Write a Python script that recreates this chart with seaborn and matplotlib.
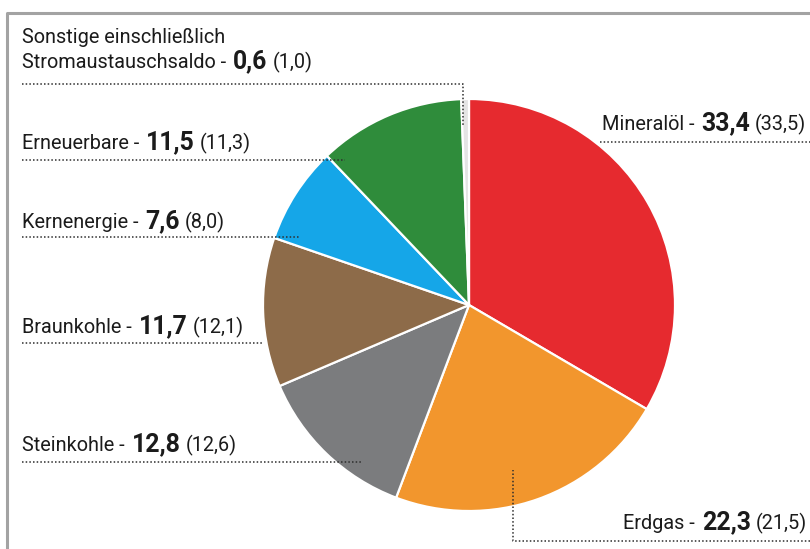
import matplotlib
matplotlib.use("Agg")
import matplotlib.pyplot as plt
import seaborn as sns

# ---- data ----
categories = ["Mineralöl", "Erdgas", "Steinkohle", "Braunkohle",
              "Kernenergie", "Erneuerbare",
              "Sonstige einschließlich\nStromaustauschsaldo"]
values = [33.4, 22.3, 12.8, 11.7, 7.6, 11.5, 0.6]
previous = [33.5, 21.5, 12.6, 12.1, 8.0, 11.3, 1.0]
colors_hex = ["#e62a2f", "#f2962d", "#7b7c7e", "#8d6b49",
              "#15a6e8", "#2f8c3b", "#e4e4e4"]

# ---- layout (pixel coords, y downwards) ----
label_pos = {  # left x, baseline y of last line
    "Mineralöl": (602, 130),
    "Erdgas": (623, 529),
    "Steinkohle": (22, 451),
    "Braunkohle": (22, 333),
    "Kernenergie": (22, 228),
    "Erneuerbare": (22, 149),
    "Sonstige einschließlich\nStromaustauschsaldo": (22, 68),
}
leaders = {
    "Mineralöl": [(600, 142), (810, 142)],
    "Erdgas": [(810, 541), (513, 541), (513, 470)],
    "Steinkohle": [(22, 462), (363, 462)],
    "Braunkohle": [(22, 343), (262, 343)],
    "Kernenergie": [(22, 237), (300, 237)],
    "Erneuerbare": [(22, 160), (345, 160)],
    "Sonstige einschließlich\nStromaustauschsaldo": [(22, 84), (463, 84), (463, 125)],
}

sns.set_theme(style="white")
plt.rcParams["font.family"] = ["Roboto", "DejaVu Sans"]
palette = sns.color_palette(colors_hex)

W, H = 810, 549
fig = plt.figure(figsize=(W / 100, H / 100), dpi=100)
fig.patch.set_facecolor("white")
ax = fig.add_axes([0, 0, 1, 1])

ax.pie(values, colors=palette, startangle=-90, counterclock=True,
       center=(469, 305), radius=206, frame=True,
       wedgeprops=dict(edgecolor="white", linewidth=1.6))
ax.set_xlim(0, W)
ax.set_ylim(H, 0)
ax.set_aspect("equal")
ax.axis("off")

# frame
ax.plot([7, 7, W + 5], [H + 5, 13, 13], color="#a3a3a3", lw=2.2,
        solid_capstyle="butt", zorder=1, clip_on=False)

# leader lines
for name in categories:
    xs = [p[0] for p in leaders[name]]
    ys = [p[1] for p in leaders[name]]
    ax.plot(xs, ys, color="#2e2e2e", lw=1.1, linestyle=(0, (1, 1.4)),
            zorder=5, clip_on=False)

txtcol = "#1b1b1b"
fig.canvas.draw()
renderer = fig.canvas.get_renderer()

# fit the base font size to the reference width of the first text line
probe = ax.text(0, 0, "Sonstige einschließlich", fontsize=14)
pw = probe.get_window_extent(renderer).width
probe.remove()
base = 14 * 205.0 / pw


def fmt(v):
    return f"{v:.1f}".replace(".", ",")


for name, v, p in zip(categories, values, previous):
    x0, yb = label_pos[name]
    lines = name.split("\n")
    for i, ln in enumerate(lines[:-1]):
        ax.text(x0, yb - 25 * (len(lines) - 1 - i), ln, fontsize=base,
                color=txtcol, va="baseline", ha="left")
    pieces = [(lines[-1] + " -", "normal", base, 7),
              (fmt(v), "bold", base * 1.25, 5),
              ("(" + fmt(p) + ")", "normal", base, 0)]
    x = x0
    for txt, wt, fs, gap in pieces:
        t = ax.text(x, yb, txt, fontsize=fs, fontweight=wt, color=txtcol,
                    va="baseline", ha="left", clip_on=False)
        bb = t.get_window_extent(renderer)
        x = bb.x1 + gap

fig.savefig("out.png", dpi=100, facecolor="white")
